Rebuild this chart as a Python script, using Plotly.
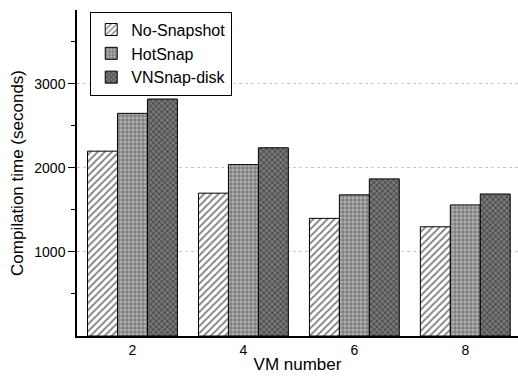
import plotly.graph_objects as go

vm_numbers = [2, 4, 6, 8]
no_snapshot = [2200, 1700, 1400, 1300]
hotsnap = [2650, 2040, 1680, 1560]
vnsnap_disk = [2820, 2240, 1870, 1690]
y_ticks = [1000, 2000, 3000]

fig = go.Figure()
fig.add_bar(x=vm_numbers, y=no_snapshot, name="No-Snapshot",
            marker=dict(color="white", line=dict(color="black", width=1),
                        pattern=dict(shape="/", fgcolor="black", bgcolor="white", size=5, solidity=0.35)))
fig.add_bar(x=vm_numbers, y=hotsnap, name="HotSnap",
            marker=dict(color="#b0b0b0", line=dict(color="black", width=1),
                        pattern=dict(shape="+", fgcolor="black", bgcolor="#b0b0b0", size=4, solidity=0.3)))
fig.add_bar(x=vm_numbers, y=vnsnap_disk, name="VNSnap-disk",
            marker=dict(color="#767676", line=dict(color="black", width=1),
                        pattern=dict(shape="x", fgcolor="black", bgcolor="#767676", size=4, solidity=0.35)))

fig.update_layout(
    width=518, height=379,
    margin=dict(l=77, r=0, t=10, b=43),
    barmode="group", bargap=0.19, bargroupgap=0,
    plot_bgcolor="white", paper_bgcolor="white",
    font=dict(family="Liberation Sans, Arial, sans-serif", color="black", size=14),
    showlegend=True,
    legend=dict(x=0.03, y=0.995, xanchor="left", yanchor="top",
                bordercolor="black", borderwidth=1, bgcolor="white",
                font=dict(size=16), tracegroupgap=0, itemwidth=30),
    xaxis=dict(range=[1, 8.95], tickvals=vm_numbers, ticktext=[str(v) for v in vm_numbers],
               showline=True, linecolor="black", linewidth=1.5, ticks="",
               showgrid=False, zeroline=False,
               title=dict(text="VM number", font=dict(size=17), standoff=2)),
    yaxis=dict(range=[0, 3880], tickvals=y_ticks, showline=True, linecolor="black", linewidth=1.5,
               ticks="outside", ticklen=7, tickcolor="black",
               showgrid=True, gridcolor="#c8c8c8", griddash="dot", gridwidth=1, zeroline=False,
               minor=dict(tickvals=[500, 1500, 2500, 3500], ticks="outside", ticklen=4,
                          tickcolor="black", showgrid=False),
               title=dict(text="Compilation time (seconds)", font=dict(size=17), standoff=6)),
)

fig.write_html("out.html")
